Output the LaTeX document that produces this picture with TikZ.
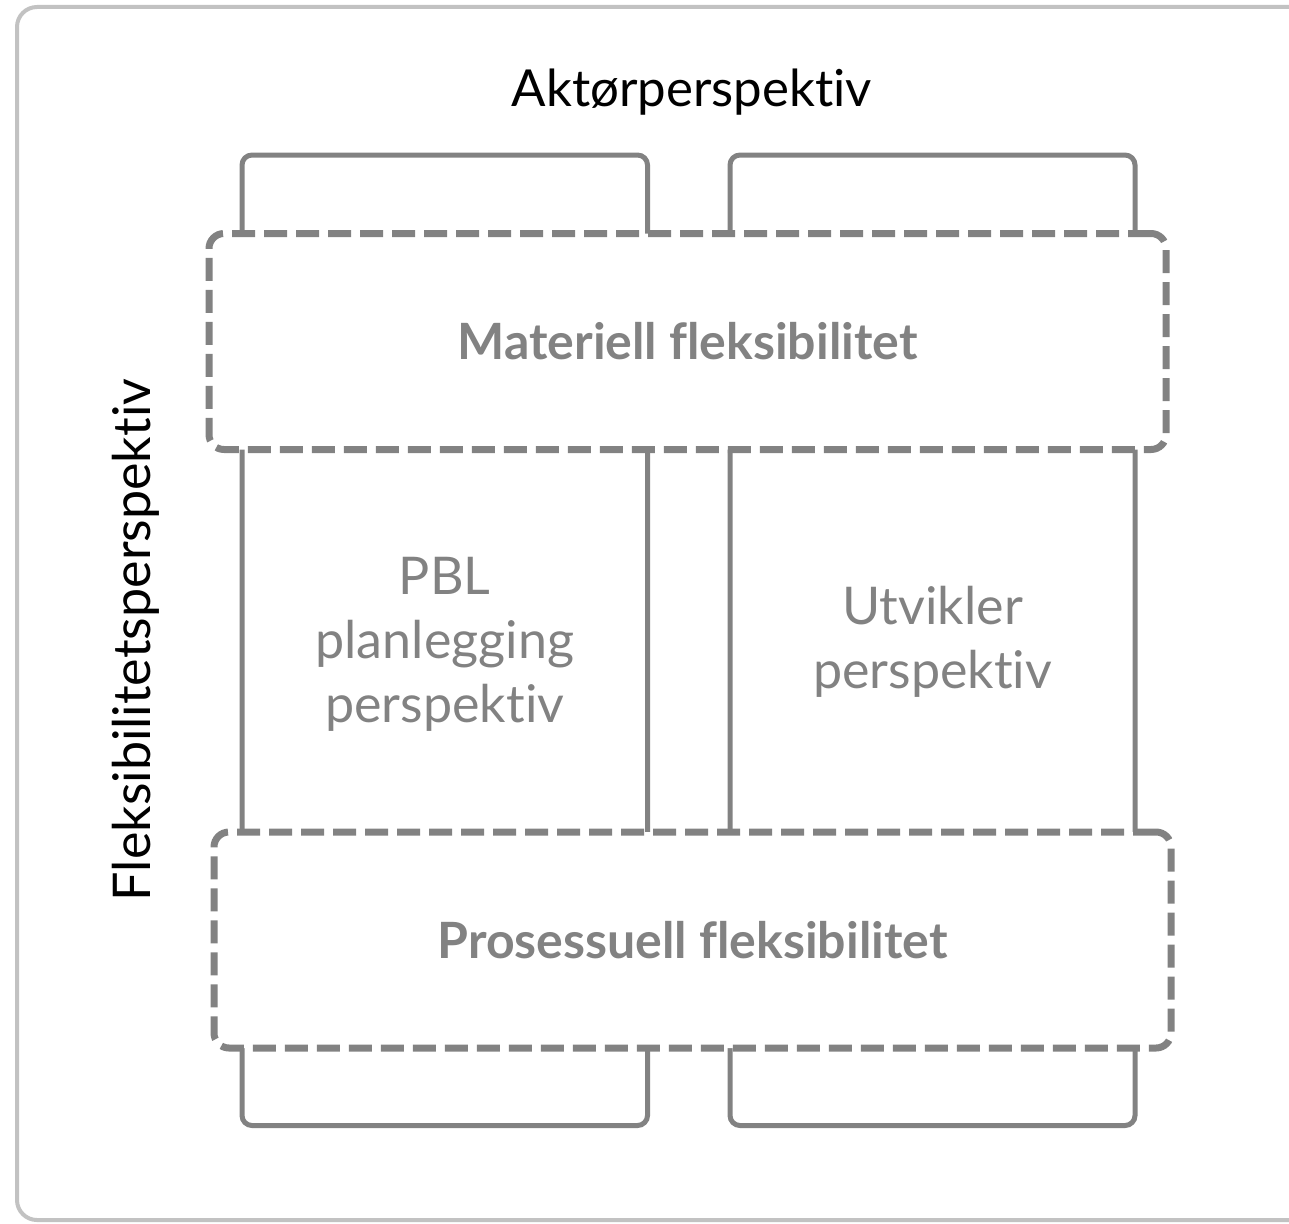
\documentclass[tikz,border=0pt]{standalone}
\usepackage{fontspec}
\setmainfont[Ligatures={NoCommon}]{Lato}
\definecolor{linegray}{HTML}{828282}
\definecolor{framegray}{HTML}{C2C2C2}
\tikzset{
  colbox/.style={draw=linegray, line width=5pt, rounded corners=10pt, rectangle, inner sep=0pt},
  flexbox/.style={draw=linegray, fill=white, line width=7pt, dash pattern=on 23pt off 9pt, rounded corners=15pt, rectangle, inner sep=0pt, minimum width=957pt, minimum height=216pt, text=linegray, font=\fontsize{50}{60}\selectfont\bfseries},
  coltext/.style={text=linegray, align=center, font=\fontsize{52}{64}\selectfont},
  headtext/.style={text=black, font=\fontsize{51}{60}\selectfont}
}
\begin{document}
\begin{tikzpicture}[x=1pt,y=-1pt]
\useasboundingbox (0,0) rectangle (1289,1223);
\draw[framegray, line width=4pt, rounded corners=20pt] (17,7) rectangle (1330,1220);
\node[colbox, minimum width=405.5pt, minimum height=970.5pt] (colL) at (444.75,640.25) {};
\node[colbox, minimum width=405pt, minimum height=970.5pt] (colR) at (932.5,640.25) {};
\node[flexbox] (mat) at (687.5,341.5) {Materiell fleksibilitet};
\node[flexbox] (pro) at (692.5,940) {Prosessuell fleksibilitet};
\node[coltext] (pbl) at (444.75,644) {PBL\\planlegging\\perspektiv};
\node[coltext] (utv) at (932.5,642) {Utvikler\\perspektiv};
\node[headtext] (akt) at (692,92) {Aktørperspektiv};
\node[headtext, font=\fontsize{52}{60}\selectfont, rotate=90] (flx) at (136,640) {Fleksibilitetsperspektiv};
\end{tikzpicture}
\end{document}
